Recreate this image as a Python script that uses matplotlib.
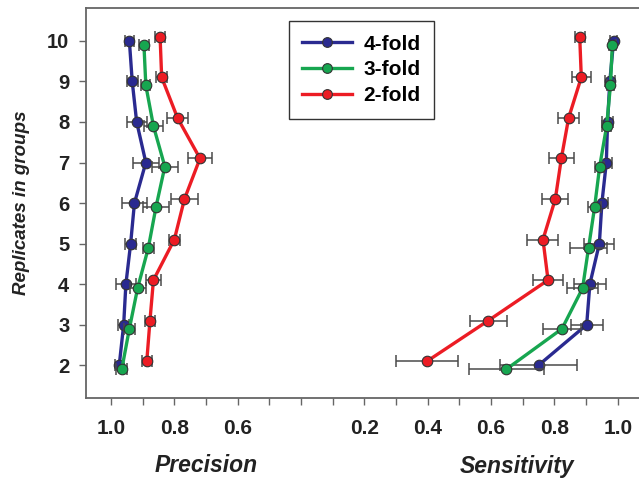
import numpy as np
import matplotlib
matplotlib.use("Agg")
import matplotlib.pyplot as plt

plt.rcParams['font.family'] = ['Liberation Sans', 'DejaVu Sans']

# replicates per group
replicates = [2, 3, 4, 5, 6, 7, 8, 9, 10]
series = ['4-fold', '3-fold', '2-fold']

# precision (mean, error)
prec_4 = [0.974, 0.960, 0.953, 0.938, 0.926, 0.890, 0.919, 0.933, 0.942]
prec_4_err = [0.012, 0.018, 0.032, 0.017, 0.040, 0.040, 0.032, 0.018, 0.015]
prec_3 = [0.966, 0.942, 0.916, 0.882, 0.858, 0.830, 0.866, 0.890, 0.896]
prec_3_err = [0.018, 0.017, 0.025, 0.017, 0.041, 0.042, 0.030, 0.014, 0.015]
prec_2 = [0.887, 0.877, 0.866, 0.800, 0.768, 0.719, 0.790, 0.840, 0.845]
prec_2_err = [0.016, 0.017, 0.024, 0.018, 0.042, 0.039, 0.033, 0.017, 0.017]

# sensitivity (mean, error)
sens_4 = [0.750, 0.902, 0.912, 0.942, 0.950, 0.964, 0.968, 0.975, 0.987]
sens_4_err = [0.121, 0.050, 0.050, 0.047, 0.020, 0.018, 0.018, 0.015, 0.012]
sens_3 = [0.648, 0.824, 0.889, 0.908, 0.927, 0.943, 0.965, 0.977, 0.983]
sens_3_err = [0.118, 0.059, 0.050, 0.059, 0.020, 0.015, 0.015, 0.012, 0.010]
sens_2 = [0.398, 0.591, 0.780, 0.764, 0.803, 0.822, 0.845, 0.885, 0.880]
sens_2_err = [0.098, 0.058, 0.048, 0.049, 0.041, 0.040, 0.032, 0.030, 0.016]

colors = ['#2a2a90', '#17a650', '#ec1c24']
dodge = [0.0, -0.1, 0.1]

SENS_SHIFT = 0.6  # sensitivity drawn to the right of precision on one axis

fig = plt.figure(figsize=(6.39, 4.8), dpi=100)
ax = fig.add_axes([86 / 639, 1 - 397.7 / 480, 1 - 86 / 639, (397.7 - 8) / 480])

precs = [(prec_4, prec_4_err), (prec_3, prec_3_err), (prec_2, prec_2_err)]
senss = [(sens_4, sens_4_err), (sens_3, sens_3_err), (sens_2, sens_2_err)]

for i, name in enumerate(series):
    y = np.array(replicates) + dodge[i]
    p, pe = precs[i]
    s, se = senss[i]
    z = 3 + i
    # error bars
    ax.errorbar(1 - np.array(p), y, xerr=pe, fmt='none', ecolor='#4a4a4a',
                elinewidth=1.1, capsize=4.2, capthick=1.1, zorder=z)
    ax.errorbar(np.array(s) + SENS_SHIFT, y, xerr=se, fmt='none', ecolor='#4a4a4a',
                elinewidth=1.1, capsize=4.2, capthick=1.1, zorder=z)
    ax.plot(1 - np.array(p), y, '-o', color=colors[i], lw=2.4, ms=7.6,
            mec='#333333', mew=0.8, zorder=z + 0.5, label=name)
    ax.plot(np.array(s) + SENS_SHIFT, y, '-o', color=colors[i], lw=2.4, ms=7.6,
            mec='#333333', mew=0.8, zorder=z + 0.5)

ax.set_xlim(-25 / 316.7, (639 - 111) / 316.7)
ax.set_ylim(1.2, 10.81)

ticks = np.round(np.arange(0, 1.61, 0.1), 2)
tick_text = {0.0: '1.0', 0.2: '0.8', 0.4: '0.6', 0.8: '0.2', 1.0: '0.4',
             1.2: '0.6', 1.4: '0.8', 1.6: '1.0'}
ax.set_xticks(ticks)
ax.set_xticklabels([tick_text.get(t, '') for t in ticks])
ax.set_yticks(replicates)
ax.set_yticklabels([str(r) for r in replicates])

ax.tick_params(axis='both', direction='out', length=5, width=1, color='#666666')
ax.tick_params(axis='x', labelsize=15, pad=10)
ax.tick_params(axis='y', labelsize=14.5, pad=7)
for lab in ax.get_xticklabels() + ax.get_yticklabels():
    lab.set_fontweight('bold')
    lab.set_color('#222222')

for side in ['left', 'bottom', 'top']:
    ax.spines[side].set_color('#666666')
    ax.spines[side].set_linewidth(1.3)
ax.spines['right'].set_visible(False)

ax.set_ylabel('Replicates in groups', fontsize=13.5, fontweight='bold',
              fontstyle='italic', color='#222222', labelpad=12)

fig.text(206 / 639, 1 - 466 / 480, 'Precision', fontsize=16.5, fontweight='bold',
         fontstyle='italic', ha='center', va='center', color='#222222')
fig.text(517 / 639, 1 - 466 / 480, 'Sensitivity', fontsize=16.5, fontweight='bold',
         fontstyle='italic', ha='center', va='center', color='#222222')

leg = ax.legend(loc='upper left', bbox_to_anchor=(288.7 / 639, 1 - 21 / 480),
                bbox_transform=fig.transFigure, fancybox=False, framealpha=1,
                edgecolor='#333333', handlelength=2.4, handletextpad=0.55,
                borderpad=0.65, borderaxespad=0, labelspacing=0.33,
                prop={'size': 15, 'weight': 'bold'})
leg.get_frame().set_linewidth(1.0)
for h in leg.get_lines():
    h.set_markersize(7)

fig.savefig('out.png', dpi=100)
